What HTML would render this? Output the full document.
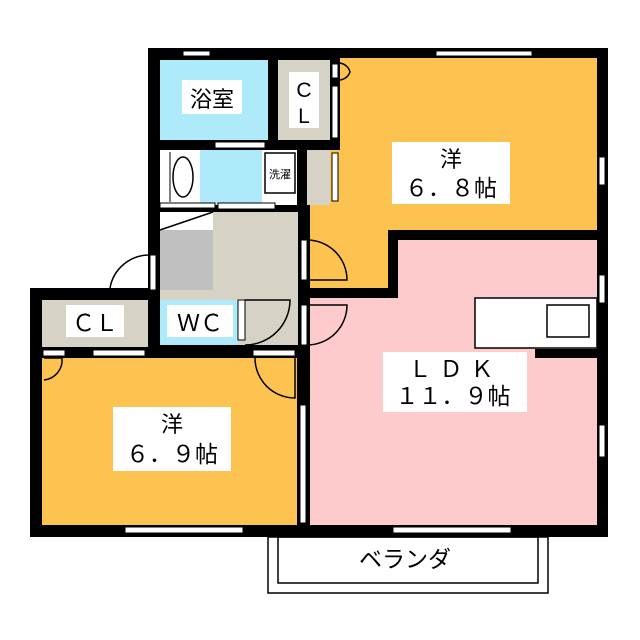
<!DOCTYPE html>
<html><head><meta charset="utf-8"><style>
html,body{margin:0;padding:0;background:#fff}
svg{display:block}
text{font-family:"Liberation Sans","Noto Sans CJK JP",sans-serif;fill:#000}
</style></head><body>
<svg width="640" height="640" viewBox="0 0 640 640" xmlns="http://www.w3.org/2000/svg">
<rect x="268" y="537" width="280" height="56" fill="none" stroke="#000" stroke-width="1.5"/>
<rect x="278" y="537" width="260" height="46" fill="none" stroke="#000" stroke-width="1.5"/>
<rect x="148" y="48" width="460" height="190" fill="#000"/>
<rect x="298" y="48" width="310" height="250" fill="#000"/>
<rect x="298" y="230" width="310" height="307" fill="#000"/>
<rect x="30" y="288" width="218" height="249" fill="#000"/>
<rect x="148" y="200" width="162" height="158" fill="#000"/>
<rect x="30" y="345" width="280" height="192" fill="#000"/>
<rect x="340" y="58" width="257" height="172" fill="#fdc350"/>
<rect x="310" y="150" width="78" height="138" fill="#fdc350"/>
<rect x="398" y="240" width="199" height="285" fill="#fdcbcb"/>
<rect x="310" y="298" width="90" height="227" fill="#fdcbcb"/>
<rect x="160" y="60" width="108" height="80" fill="#aeeaf9"/>
<rect x="278" y="60" width="52" height="80" fill="#d6d3c6"/>
<rect x="160" y="150" width="40" height="55" fill="#fff"/>
<rect x="200" y="150" width="62" height="55" fill="#aeeaf9"/>
<rect x="262" y="150" width="35" height="55" fill="#fff"/>
<rect x="307" y="150" width="23" height="55" fill="#d6d3c6"/>
<rect x="160" y="212" width="138" height="133" fill="#d6d3c6"/>
<rect x="160" y="230" width="53" height="60" fill="#c0c0c0"/>
<rect x="160" y="212" width="53" height="18" fill="#fff"/>
<line x1="160" y1="230" x2="213" y2="212" stroke="#000" stroke-width="1.5"/>
<rect x="42" y="300" width="106" height="47" fill="#d6d3c6"/>
<rect x="160" y="300" width="78" height="45" fill="#aeeaf9"/>
<rect x="42" y="358" width="255" height="167" fill="#fdc350"/>
<rect x="265" y="153" width="30" height="40" fill="#fff" stroke="#000" stroke-width="1.5"/>
<ellipse cx="183" cy="177" rx="10" ry="20" fill="#fff" stroke="#000" stroke-width="1.5"/>
<line x1="170" y1="152" x2="170" y2="202" stroke="#000"/>
<rect x="475" y="298" width="122" height="50" fill="#fff" stroke="#000" stroke-width="1.5"/>
<rect x="547" y="305" width="42" height="32" fill="#fff" stroke="#000" stroke-width="1.5"/>
<rect x="535" y="349" width="63" height="9" fill="#000"/>
<g fill="#fff" stroke="#000" stroke-width="1">
<rect x="183" y="51" width="27" height="5"/>
<rect x="436" y="51" width="96" height="5"/>
<rect x="599" y="157" width="6" height="28"/>
<rect x="599" y="275" width="6" height="28"/>
<rect x="599" y="425" width="6" height="32"/>
<rect x="393" y="527" width="118" height="6"/>
<rect x="125" y="527" width="118" height="6"/>
<rect x="300" y="405" width="6" height="118"/>
<rect x="43" y="350" width="22" height="6"/>
<rect x="93" y="350" width="52" height="6"/>
<rect x="253" y="350" width="42" height="6"/>
<rect x="215" y="142" width="50" height="6"/>
<rect x="218" y="203" width="57" height="6"/>
<rect x="160" y="203" width="55" height="5"/>
<rect x="332" y="64" width="6" height="14"/>
<rect x="332" y="86" width="6" height="52"/>
<rect x="332" y="153" width="6" height="48"/>
<rect x="301" y="240" width="6" height="40"/>
<rect x="301" y="305" width="6" height="40"/>
<rect x="238" y="300" width="7" height="40"/>
<rect x="150" y="255" width="6" height="35"/>
</g>
<g fill="none" stroke="#000" stroke-width="1.5">
<path d="M307 240 A40 40 0 0 1 347 280 L307 280"/>
<path d="M307 305 L347 305 A40 40 0 0 1 307 345"/>
<path d="M245 300 L290 300 A45 45 0 0 1 245 345"/>
<path d="M150 255 A40 40 0 0 0 110 288"/>
<path d="M44 358 L62 358 A20 20 0 0 1 44 380"/>
<path d="M255 358 A40 40 0 0 0 295 398 L295 358"/>
<path d="M338 63 A12 12 0 0 1 350 72 A12 12 0 0 1 338 80"/>
</g>
<rect x="182" y="80" width="60" height="34" fill="#fff"/>
<text x="212" y="107" font-size="22" text-anchor="middle">浴室</text>
<rect x="289" y="72" width="30" height="56" fill="#fff"/>
<text x="304" y="97" font-size="21" text-anchor="middle">C</text>
<text x="304" y="123" font-size="21" text-anchor="middle">L</text>
<text x="280" y="178" font-size="11" text-anchor="middle">洗濯</text>
<rect x="392" y="142" width="118" height="62" fill="#fff"/>
<text x="451" y="167" font-size="22" text-anchor="middle">洋</text>
<text x="451" y="196" font-size="23" text-anchor="middle">６．８帖</text>
<rect x="383" y="352" width="144" height="60" fill="#fff"/>
<text x="455" y="377" font-size="23" text-anchor="middle" letter-spacing="8">ＬＤＫ</text>
<text x="453" y="404" font-size="23" text-anchor="middle">１１．９帖</text>
<rect x="113" y="407" width="118" height="64" fill="#fff"/>
<text x="172" y="432" font-size="22" text-anchor="middle">洋</text>
<text x="172" y="462" font-size="23" text-anchor="middle">６．９帖</text>
<rect x="66" y="305" width="58" height="32" fill="#fff"/>
<text x="95" y="331" font-size="23" text-anchor="middle">ＣＬ</text>
<rect x="167" y="305" width="66" height="32" fill="#fff"/>
<text x="200" y="331" font-size="23" text-anchor="middle">ＷＣ</text>
<text x="405" y="567" font-size="23" text-anchor="middle">ベランダ</text>
</svg>
</body></html>
